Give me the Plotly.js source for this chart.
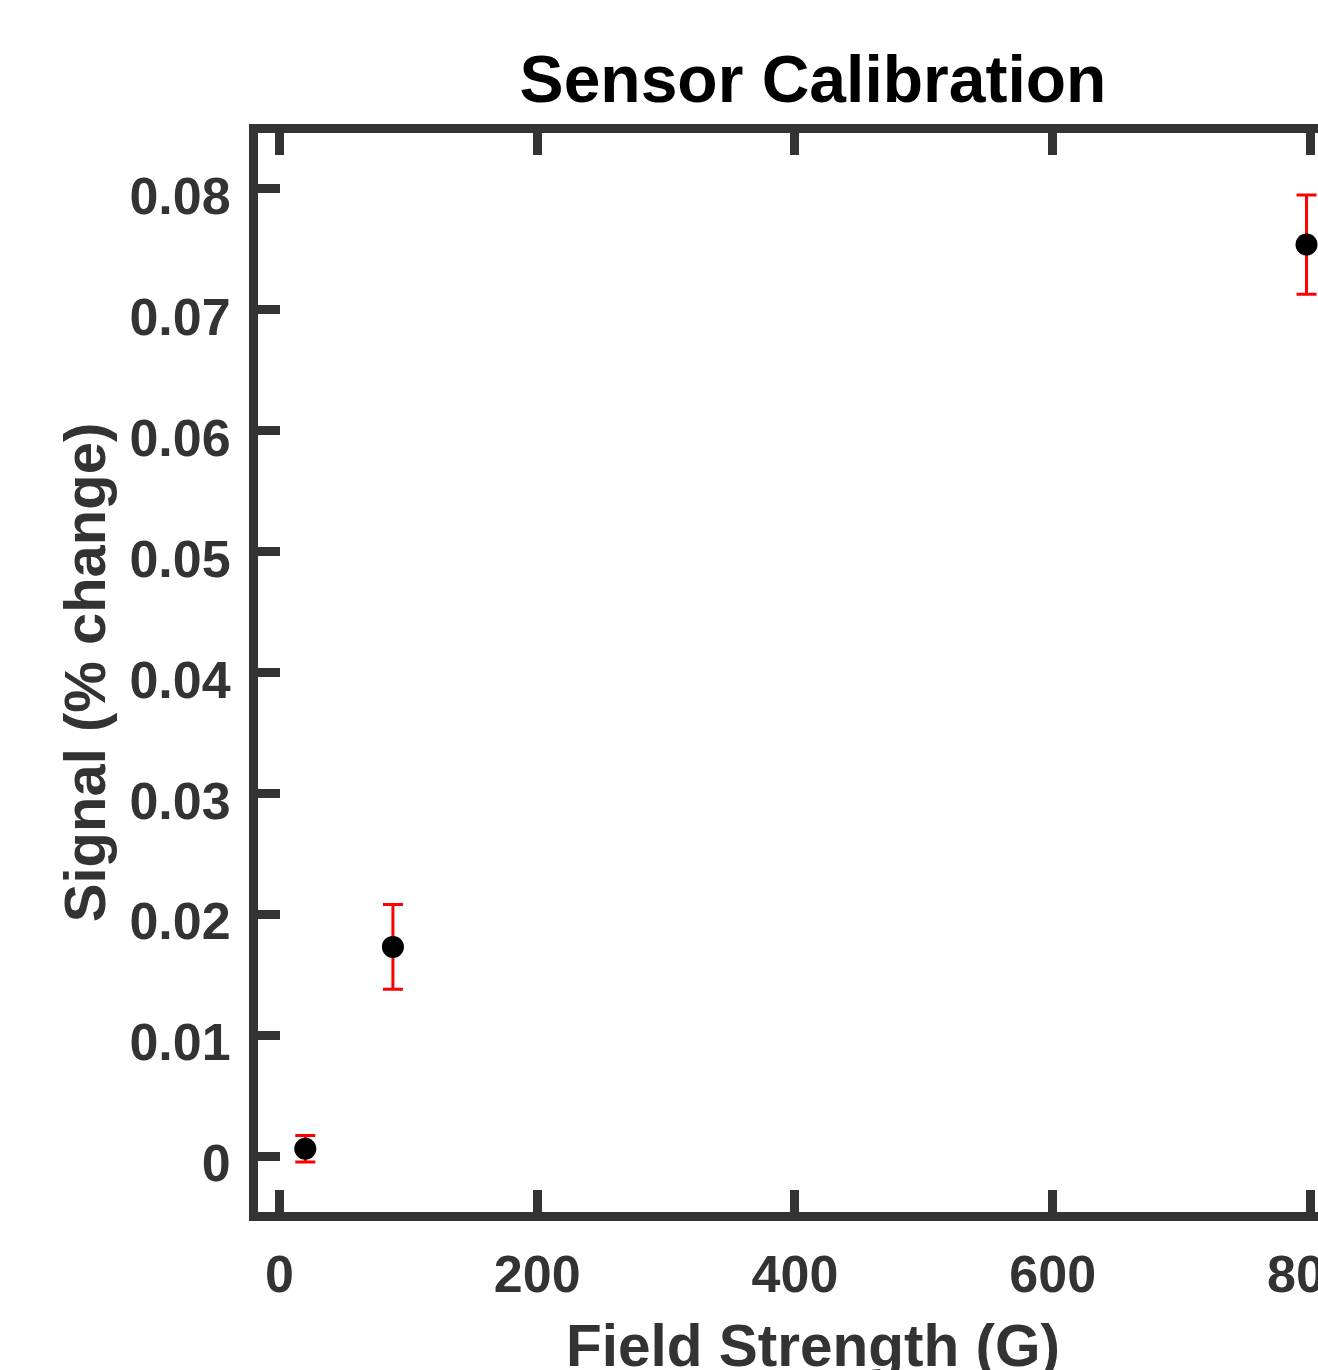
<!DOCTYPE html>
<html>
<head>
<meta charset="utf-8">
<script src="https://cdn.plot.ly/plotly-3.0.1.min.js"></script>
<style>
html, body { margin: 0; padding: 0; background: #ffffff; overflow: hidden; width: 1318px; height: 1370px; }
#chart { width: 1450px; height: 1410px; }
</style>
</head>
<body>
<div id="chart"></div>
<script>
// Data
const fieldStrength = [20, 88, 797];          // G
const signalChange = [0.0006, 0.0173, 0.0754]; // % change
const signalError = [0.0011, 0.0035, 0.0041];  // symmetric error

const xTickVals = [0, 200, 400, 600, 800];
const xTickText = ['0', '200', '400', '600', '800'];
const yTickVals = [0, 0.01, 0.02, 0.03, 0.04, 0.05, 0.06, 0.07, 0.08];
const yTickText = ['0', '0.01', '0.02', '0.03', '0.04', '0.05', '0.06', '0.07', '0.08'];

const chartTitle = 'Sensor Calibration';
const xTitle = 'Field Strength (G)';
const yTitle = 'Signal (% change)';

const FONT = 'Liberation Sans, Arial, Helvetica, sans-serif';
const AXC = '#333333';

const trace = {
  type: 'scatter',
  mode: 'markers',
  x: fieldStrength,
  y: signalChange,
  error_y: {
    type: 'data',
    array: signalError,
    visible: true,
    color: '#ff0000',
    thickness: 3,
    width: 10
  },
  marker: { color: '#000000', size: 22 },
  showlegend: false,
  hoverinfo: 'x+y'
};

const axisCommon = {
  showline: true,
  linewidth: 9,
  linecolor: AXC,
  mirror: 'ticks',
  ticks: 'inside',
  ticklen: 22,
  tickwidth: 9,
  tickcolor: AXC,
  showgrid: false,
  zeroline: false,
  tickfont: { family: FONT, size: 52, color: AXC, weight: 'bold' }
};

const layout = {
  width: 1450,
  height: 1410,
  paper_bgcolor: '#ffffff',
  plot_bgcolor: '#ffffff',
  margin: { l: 258, r: 82, t: 133, b: 198, pad: 0 },
  title: {
    text: chartTitle,
    font: { family: FONT, size: 66, color: '#000000', weight: 'bold' },
    x: 0.5, xref: 'paper',
    y: 1 - 56 / 1410, yref: 'container', yanchor: 'top'
  },
  xaxis: Object.assign({}, axisCommon, {
    range: [-16.7, 844.7],
    tickmode: 'array',
    tickvals: xTickVals,
    ticktext: xTickText,
    ticklabelstandoff: 9,
    title: {
      text: xTitle,
      font: { family: FONT, size: 58.5, color: AXC, weight: 'bold' },
      standoff: 26
    }
  }),
  yaxis: Object.assign({}, axisCommon, {
    range: [-0.004633, 0.08463],
    tickmode: 'array',
    tickvals: yTickVals,
    ticktext: yTickText,
    ticklabelstandoff: 8,
    ticklabelshift: 7,
    title: {
      text: yTitle,
      font: { family: FONT, size: 58, color: AXC, weight: 'bold' },
      standoff: 9
    }
  })
};

Plotly.newPlot('chart', [trace], layout, { displayModeBar: false, staticPlot: true });
</script>
</body>
</html>
